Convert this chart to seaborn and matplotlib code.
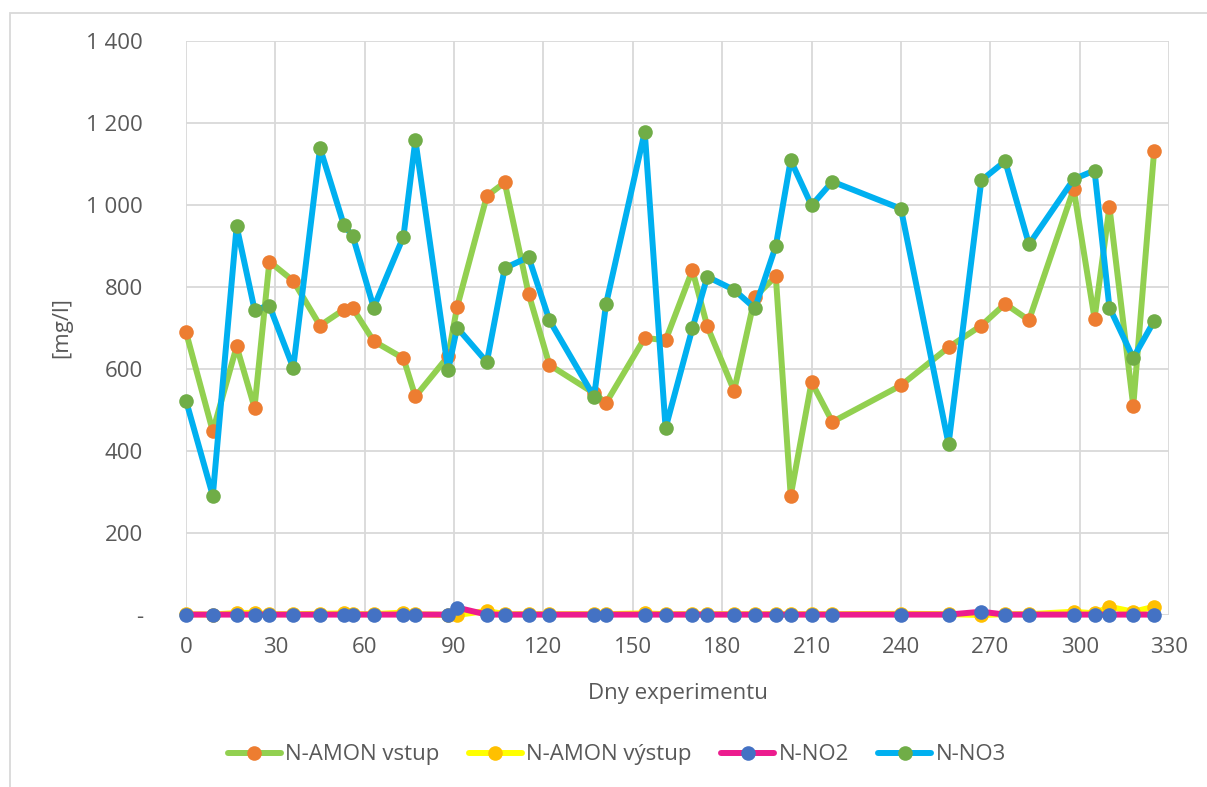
import matplotlib
matplotlib.use("Agg")
import matplotlib.pyplot as plt
import matplotlib.patches as patches
from matplotlib.ticker import FuncFormatter, MultipleLocator
import seaborn as sns

# days of experiment
days = [0, 9, 17, 23, 28, 36, 45, 53, 56, 63, 73, 77, 88, 91, 101, 107, 115, 122, 137, 141,
        154, 161, 170, 175, 184, 191, 198, 203, 210, 217, 240, 256, 267, 275, 283, 298, 305, 310, 318, 325]

amon_in = [690, 448, 655, 506, 862, 815, 706, 745, 748, 668, 626, 533, 631, 751, 1022, 1055, 784, 610, 541, 517,
           676, 670, 841, 704, 547, 776, 826, 291, 568, 471, 560, 653, 706, 759, 719, 1039, 723, 995, 510, 1131]

amon_out = [2, 1, 5, 5, 2, 2, 3, 4, 2, 2, 6, 2, 0, 0, 10, 2, 2, 2, 2, 2,
            4, 2, 2, 2, 2, 2, 2, 2, 2, 2, 3, 2, 0, 2, 2, 8, 4, 20, 8, 20]

no2 = [1, 1, 1, 1, 1, 1, 1, 1, 1, 1, 1, 1, 1, 18, 1, 1, 1, 1, 1, 1,
       1, 1, 1, 1, 1, 1, 1, 1, 1, 1, 1, 1, 8, 1, 1, 1, 1, 1, 1, 1]

no3 = [523, 291, 948, 745, 754, 603, 1139, 951, 924, 750, 923, 1158, 597, 701, 617, 846, 873, 719, 532, 758,
       1179, 456, 699, 825, 793, 748, 900, 1109, 999, 1057, 991, 417, 1060, 1107, 904, 1063, 1084, 750, 627, 717]

series = [
    ("N-AMON vstup", amon_in, "#92D050", "#ED7D31"),
    ("N-AMON výstup", amon_out, "#FFFF00", "#FFC000"),
    ("N-NO2", no2, "#EC1C8E", "#4472C4"),
    ("N-NO3", no3, "#00B0F0", "#70AD47"),
]

sns.set_theme(style="white")
plt.rcParams["font.family"] = ["Open Sans", "DejaVu Sans"]
text_col = "#595959"
grid_col = "#D9D9D9"
fs = 16

fig = plt.figure(figsize=(12.07, 7.87), dpi=100)
ax = fig.add_axes([186 / 1207, 1 - 615 / 787, 983 / 1207, 574 / 787])

for name, vals, lc, mc in series:
    sns.lineplot(x=days, y=vals, ax=ax, color=lc, lw=4.3, marker="o", markersize=10.5,
                 markerfacecolor=mc, markeredgecolor=mc, markeredgewidth=0,
                 label=name, solid_capstyle="round", clip_on=False)

ax.set_xlim(0, 330)
ax.set_ylim(0, 1400)
ax.xaxis.set_major_locator(MultipleLocator(30))
ax.yaxis.set_major_locator(MultipleLocator(200))


def fmt_y(v, pos):
    if v == 0:
        return "-"
    return f"{int(v):,}".replace(",", " ")


ax.yaxis.set_major_formatter(FuncFormatter(fmt_y))
ax.grid(True, color=grid_col, lw=1.3)
ax.set_axisbelow(True)
for s in ax.spines.values():
    s.set_visible(False)
ax.tick_params(axis="both", length=0, labelsize=fs, colors=text_col)
ax.tick_params(axis="y", pad=31)
ax.tick_params(axis="x", pad=16)

ax.set_xlabel("Dny experimentu", fontsize=fs, color=text_col)
ax.set_ylabel("[mg/l]", fontsize=fs, color=text_col)
ax.xaxis.set_label_coords(0.5, -0.118)
ax.yaxis.set_label_coords(-0.116, 0.5)

ax.legend(loc="center", bbox_to_anchor=(0.511, 0.0407), bbox_transform=fig.transFigure,
          ncol=4, frameon=False, fontsize=fs, handlelength=2.4, handletextpad=0.2,
          columnspacing=1.3, labelcolor=text_col)

# chart area border
fig.patches.append(patches.Rectangle((10 / 1207, -0.05), 1.2, 1 - 13 / 787 + 0.05,
                                     transform=fig.transFigure, fill=False,
                                     edgecolor=grid_col, lw=1.3))

fig.savefig("out.png", dpi=100)
